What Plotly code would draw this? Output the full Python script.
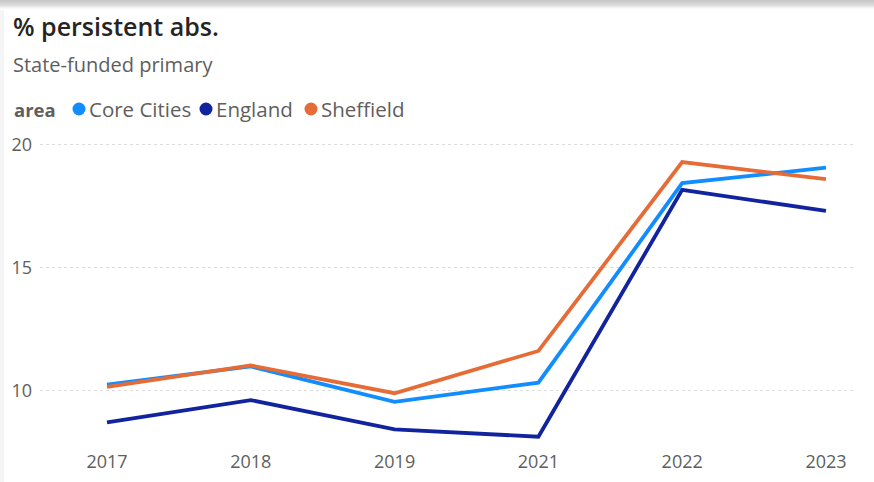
import plotly.graph_objects as go

years = ["2017", "2018", "2019", "2021", "2022", "2023"]
core_cities = [10.24, 10.98, 9.54, 10.32, 18.44, 19.07]
england = [8.70, 9.61, 8.42, 8.12, 18.17, 17.31]
sheffield = [10.15, 11.02, 9.89, 11.61, 19.30, 18.60]

series_names = ["Core Cities", "England", "Sheffield"]
series_values = [core_cities, england, sheffield]
series_colors = ["#118DFF", "#12239E", "#E66C37"]

FONT = "Segoe UI, Open Sans, sans-serif"
W, H = 874, 482
plot_top, plot_bottom = 135, 448
plot_left, plot_right = 40, 854
PW, PH = plot_right - plot_left, plot_bottom - plot_top


def px_x(x):
    return (x - plot_left) / PW


def px_y(y):
    return (plot_bottom - y) / PH


fig = go.Figure()
for name, vals, col in zip(series_names, series_values, series_colors):
    fig.add_trace(go.Scatter(x=years, y=vals, mode="lines", name=name,
                             line=dict(color=col, width=3.8), showlegend=False))

fig.update_layout(
    width=W, height=H,
    paper_bgcolor="white", plot_bgcolor="white",
    margin=dict(l=plot_left, r=W - plot_right, t=plot_top, b=H - plot_bottom,
                autoexpand=False),
    font=dict(family=FONT, color="#605E5C"),
    showlegend=False,
    xaxis=dict(type="category", range=[-0.466, 5.195], showgrid=False, zeroline=False,
               showline=False, ticks="", tickfont=dict(size=18, color="#605E5C"),
               ticklabelstandoff=1),
    yaxis=dict(range=[7.66, 20.4], tickvals=[10, 15, 20], showgrid=True,
               gridcolor="#DCDCDC", griddash="dot", gridwidth=1, zeroline=False,
               showline=False, ticks="", tickfont=dict(size=18, color="#605E5C"),
               ticklabelstandoff=7),
)

# top shadow strip
shade = ["#C9C9C9", "#CCCCCC", "#D0D0D0", "#D4D4D4", "#D9D9D9", "#E0E0E0", "#E9E9E9", "#F2F2F2", "#F9F9F9", "#FDFDFD"]
for i, c in enumerate(shade):
    fig.add_shape(type="rect", xref="paper", yref="paper", x0=-0.1, x1=1.1,
                  y0=px_y(i + 1), y1=px_y(i), fillcolor=c, line=dict(width=0), layer="above")
# faint left border
fig.add_shape(type="rect", xref="paper", yref="paper", x0=px_x(0), x1=px_x(4),
              y0=px_y(H), y1=px_y(10), fillcolor="#F5F5F5", line=dict(width=0), layer="above")

fig.add_annotation(text="% persistent abs.", xref="paper", yref="paper",
                   x=px_x(11), xanchor="left", y=px_y(26), yanchor="middle",
                   showarrow=False,
                   font=dict(size=25, color="#252423", family=FONT, weight=600))
fig.add_annotation(text="State-funded primary", xref="paper", yref="paper",
                   x=px_x(11), xanchor="left", y=px_y(64), yanchor="middle",
                   showarrow=False, font=dict(size=20, color="#605E5C", family=FONT))

# legend
legend_y = 109
fig.add_annotation(text="<b>area</b>", xref="paper", yref="paper",
                   x=px_x(12), xanchor="left", y=px_y(legend_y), yanchor="middle",
                   showarrow=False, font=dict(size=18.5, color="#605E5C", family=FONT))
dot_centers = [79, 206, 311]
for name, col, cx in zip(series_names, series_colors, dot_centers):
    r = 6.5
    fig.add_shape(type="circle", xref="paper", yref="paper",
                  x0=px_x(cx - r), x1=px_x(cx + r), y0=px_y(legend_y + r), y1=px_y(legend_y - r),
                  fillcolor=col, line=dict(width=0))
    fig.add_annotation(text=name, xref="paper", yref="paper",
                       x=px_x(cx + 8), xanchor="left", y=px_y(legend_y), yanchor="middle",
                       showarrow=False, font=dict(size=20.5, color="#605E5C", family=FONT))

fig.write_html("out.html", config={"displayModeBar": False},
               post_script="document.body.style.margin='0';")
